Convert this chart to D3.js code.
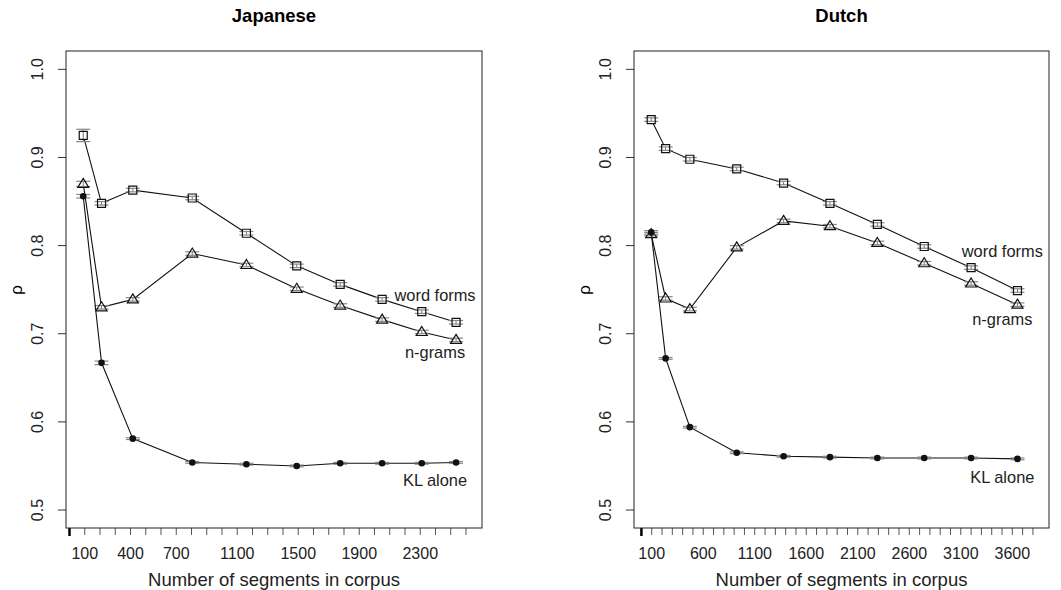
<!DOCTYPE html>
<html>
<head>
<meta charset="utf-8">
<script src="https://cdn.jsdelivr.net/npm/d3@7"></script>
<style>
  body { margin: 0; background: #fff; }
  svg { font-family: "Liberation Sans", Arial, sans-serif; }
</style>
</head>
<body>
<svg id="chart" width="1061" height="590"></svg>
<script>
// ---- data ----
var jaSegments   = [90, 210, 415, 805, 1160, 1490, 1775, 2050, 2310, 2535];
var jaWordForms  = [0.925, 0.848, 0.863, 0.854, 0.814, 0.777, 0.756, 0.739, 0.725, 0.713];
var jaNgrams     = [0.870, 0.730, 0.739, 0.791, 0.778, 0.751, 0.732, 0.716, 0.702, 0.693];
var jaKL         = [0.856, 0.667, 0.581, 0.554, 0.552, 0.550, 0.553, 0.553, 0.553, 0.554];
var jaWordErr    = [0.007, 0.002, 0.002, 0.002, 0.002, 0.002, 0.002, 0.002, 0.002, 0.002];
var jaNgramErr   = [0.003, 0.002, 0.002, 0.002, 0.002, 0.002, 0.002, 0.002, 0.002, 0.002];
var jaKLErr      = [0.002, 0.002, 0.001, 0.001, 0.001, 0.001, 0.001, 0.001, 0.001, 0.001];
var jaTickLabels = [100, 400, 700, 1100, 1500, 1900, 2300];
var jaTickMax    = 2600;

var nlSegments   = [95, 235, 470, 925, 1380, 1830, 2290, 2745, 3200, 3650];
var nlWordForms  = [0.943, 0.910, 0.898, 0.887, 0.871, 0.848, 0.824, 0.799, 0.775, 0.749];
var nlNgrams     = [0.813, 0.740, 0.728, 0.798, 0.828, 0.822, 0.803, 0.780, 0.757, 0.733];
var nlKL         = [0.815, 0.672, 0.594, 0.565, 0.561, 0.560, 0.559, 0.559, 0.559, 0.558];
var nlWordErr    = [0.002, 0.002, 0.002, 0.002, 0.002, 0.002, 0.002, 0.002, 0.002, 0.002];
var nlNgramErr   = [0.002, 0.002, 0.002, 0.002, 0.002, 0.002, 0.002, 0.002, 0.002, 0.002];
var nlKLErr      = [0.002, 0.001, 0.001, 0.001, 0.001, 0.001, 0.001, 0.001, 0.001, 0.001];
var nlTickLabels = [100, 600, 1100, 1600, 2100, 2600, 3100, 3600];
var nlTickMax    = 3800;

var yTicks = [0.5, 0.6, 0.7, 0.8, 0.9, 1.0];
var seriesNames = ["word forms", "n-grams", "KL alone"];

var svg = d3.select("#chart");

function drawPanel(opt)
{
    var g = svg.append("g");
    var x = d3.scaleLinear().domain(opt.xDomain).range([opt.left, opt.right]);
    var y = d3.scaleLinear().domain([0.4796, 1.0208]).range([528, 51]);

    // title
    g.append("text")
        .attr("x", (opt.left + opt.right) / 2)
        .attr("y", 22)
        .attr("text-anchor", "middle")
        .style("font-weight", "bold")
        .style("font-size", "18.5px")
        .text(opt.title);

    // y ticks + rotated labels
    g.selectAll(".yt").data(yTicks).enter().append("line")
        .attr("x1", opt.left - 8).attr("x2", opt.left)
        .attr("y1", function (d) { return y(d); })
        .attr("y2", function (d) { return y(d); })
        .attr("stroke", "#333");
    g.selectAll(".yl").data(yTicks).enter().append("text")
        .attr("transform", function (d) {
            return "translate(" + (opt.left - 29) + "," + y(d) + ") rotate(-90)";
        })
        .attr("text-anchor", "middle")
        .attr("dy", "0.35em")
        .style("font-size", "16px")
        .style("fill", "#222")
        .text(function (d) { return d.toFixed(1); });

    // rho label
    g.append("text")
        .attr("transform", "translate(" + (opt.left - 50) + ",290) rotate(-90)")
        .attr("text-anchor", "middle")
        .attr("dy", "0.35em")
        .style("font-size", "17px")
        .text("\u03c1");

    // x ticks every 100, labels only on a few
    var ticks = d3.range(0, opt.tickMax + 1, 100);
    g.selectAll(".xt").data(ticks).enter().append("line")
        .attr("x1", function (d) { return x(d); })
        .attr("x2", function (d) { return x(d); })
        .attr("y1", 528)
        .attr("y2", function (d) { return d === 0 ? 536 : 535; })
        .attr("stroke", function (d) { return d === 0 ? "#000" : "#555"; })
        .attr("stroke-width", function (d) { return d === 0 ? 2.5 : 1; });
    g.selectAll(".xl").data(opt.tickLabels).enter().append("text")
        .attr("x", function (d) { return x(d); })
        .attr("y", 559)
        .attr("text-anchor", "middle")
        .style("font-size", "16px")
        .style("fill", "#222")
        .text(function (d) { return d; });

    g.append("text")
        .attr("x", (opt.left + opt.right) / 2)
        .attr("y", 586)
        .attr("text-anchor", "middle")
        .style("font-size", "18.5px")
        .style("fill", "#222")
        .text("Number of segments in corpus");

    // box
    g.append("rect")
        .attr("x", opt.left).attr("y", 51)
        .attr("width", opt.right - opt.left).attr("height", 528 - 51)
        .attr("fill", "none")
        .attr("stroke", "#222")
        .attr("stroke-width", 1);

    var line = d3.line()
        .x(function (d) { return x(d.s); })
        .y(function (d) { return y(d.v); });

    function markerPath(shape, cx, cy) {
        if (shape === "square") {
            return "M" + (cx - 4) + "," + (cy - 4) + "h8v8h-8Z";
        }
        return "M" + cx + "," + (cy - 5.5) + "L" + (cx + 5.5) + "," + (cy + 3.5) +
            "L" + (cx - 5.5) + "," + (cy + 3.5) + "Z";
    }

    opt.series.forEach(function (ser, si) {
        var pts = opt.segments.map(function (s, i) {
            return { s: s, v: ser.values[i], e: ser.err[i] };
        });

        g.append("path")
            .datum(pts)
            .attr("fill", "none")
            .attr("stroke", "#111")
            .attr("stroke-width", 1.1)
            .attr("d", line);

        // white knock-out under open markers (like type = "b" gaps)
        if (ser.shape !== "circle") {
            g.append("g").selectAll("path").data(pts).enter().append("path")
                .attr("d", function (d) { return markerPath(ser.shape, x(d.s), y(d.v)); })
                .attr("fill", "white");
        }

        // error bars with caps
        var eb = g.append("g").selectAll("g").data(pts).enter().append("g");
        eb.append("line")
            .attr("x1", function (d) { return x(d.s); })
            .attr("x2", function (d) { return x(d.s); })
            .attr("y1", function (d) { return y(d.v + d.e); })
            .attr("y2", function (d) { return y(d.v - d.e); })
            .attr("stroke", "#777");
        [1, -1].forEach(function (sign) {
            eb.append("line")
                .attr("x1", function (d) { return x(d.s) - 7; })
                .attr("x2", function (d) { return x(d.s) + 7; })
                .attr("y1", function (d) { return y(d.v + sign * d.e); })
                .attr("y2", function (d) { return y(d.v + sign * d.e); })
                .attr("stroke", "#888")
                .attr("stroke-width", 1.2);
        });

        // markers on top
        if (ser.shape === "circle") {
            g.append("g").selectAll("circle").data(pts).enter().append("circle")
                .attr("cx", function (d) { return x(d.s); })
                .attr("cy", function (d) { return y(d.v); })
                .attr("r", 3.3)
                .attr("fill", "#111");
        } else {
            g.append("g").selectAll("path").data(pts).enter().append("path")
                .attr("d", function (d) { return markerPath(ser.shape, x(d.s), y(d.v)); })
                .attr("fill", "none")
                .attr("stroke", "#111")
                .attr("stroke-width", 1.2);
        }

        // series label
        g.append("text")
            .attr("x", x(opt.labelX))
            .attr("y", y(opt.labelY[si]))
            .attr("dy", "0.35em")
            .attr("text-anchor", "middle")
            .style("font-size", "16.4px")
            .style("fill", "#222")
            .text(seriesNames[si]);
    });
}

drawPanel({
    title: "Japanese",
    left: 66, right: 482,
    xDomain: [-23, 2705],
    tickMax: jaTickMax,
    tickLabels: jaTickLabels,
    segments: jaSegments,
    labelX: 2397,
    labelY: [0.7439, 0.6786, 0.534],
    series: [
        { values: jaWordForms, err: jaWordErr, shape: "square" },
        { values: jaNgrams, err: jaNgramErr, shape: "triangle" },
        { values: jaKL, err: jaKLErr, shape: "circle" }
    ]
});

drawPanel({
    title: "Dutch",
    left: 634, right: 1049,
    xDomain: [-72, 3956],
    tickMax: nlTickMax,
    tickLabels: nlTickLabels,
    segments: nlSegments,
    labelX: 3503,
    labelY: [0.7939, 0.7167, 0.5374],
    series: [
        { values: nlWordForms, err: nlWordErr, shape: "square" },
        { values: nlNgrams, err: nlNgramErr, shape: "triangle" },
        { values: nlKL, err: nlKLErr, shape: "circle" }
    ]
});
</script>
</body>
</html>
